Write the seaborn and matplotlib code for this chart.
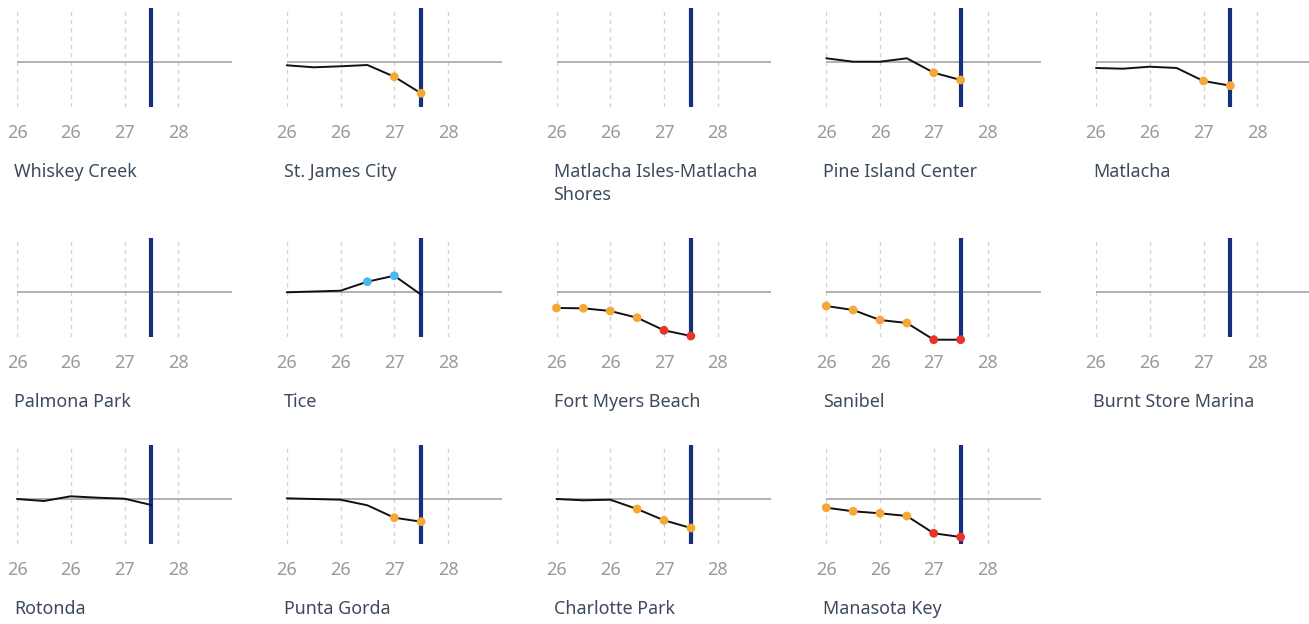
import matplotlib
matplotlib.use("Agg")
import matplotlib.pyplot as plt
import seaborn as sns
import pandas as pd

# period positions on the x axis and their tick labels
periods = [0, 0.5, 1, 1.5, 2, 2.5]
tick_pos = [0, 1, 2, 3]
tick_labels = ["26", "26", "27", "28"]
current_period = 2.5

places = [
    "Whiskey Creek", "St. James City", "Matlacha Isles-Matlacha\nShores",
    "Pine Island Center", "Matlacha",
    "Palmona Park", "Tice", "Fort Myers Beach", "Sanibel", "Burnt Store Marina",
    "Rotonda", "Punta Gorda", "Charlotte Park", "Manasota Key",
]

# change vs baseline per period (None = no data)
values = [
    None,
    [-3.3, -5.3, -4.3, -3.0, -14.7, -31.3],
    None,
    [3.7, 0.3, 0.3, 3.7, -10.7, -18.0],
    [-6.0, -6.7, -4.7, -6.0, -19.0, -23.7],
    None,
    [-0.3, 0.5, 1.3, 10.3, 16.3, -2.7],
    [-16.0, -16.3, -19.0, -25.7, -38.3, -44.0],
    [-14.0, -18.0, -28.0, -31.0, -47.7, -47.7],
    None,
    [0.0, -2.0, 2.7, 1.3, 0.3, -6.0],
    [0.7, 0.0, -0.7, -6.3, -18.7, -22.7],
    [0.0, -1.3, -0.7, -10.0, -21.3, -29.0],
    [-8.7, -12.3, -14.3, -17.0, -34.3, -38.0],
]

# marker status per point: "" none, "low", "very_low", "high"
status = [
    None,
    ["", "", "", "", "low", "low"],
    None,
    ["", "", "", "", "low", "low"],
    ["", "", "", "", "low", "low"],
    None,
    ["", "", "", "high", "high", ""],
    ["low", "low", "low", "low", "very_low", "very_low"],
    ["low", "low", "low", "low", "very_low", "very_low"],
    None,
    ["", "", "", "", "", ""],
    ["", "", "", "", "low", "low"],
    ["", "", "", "low", "low", "low"],
    ["low", "low", "low", "low", "very_low", "very_low"],
]

palette = {"low": "#f5a833", "very_low": "#e8352b", "high": "#4cb8f2"}

sns.set_theme(style="white")
plt.rcParams["font.family"] = ["Noto Sans", "DejaVu Sans"]

W, H = 1309, 624
fig = plt.figure(figsize=(W / 100, H / 100), dpi=100)

row_tops = [8, 238, 445]
panel_h = 99
panel_w = 215

for i, place in enumerate(places):
    r, c = divmod(i, 5)
    left_px = 17 + 269.75 * c
    top_px = row_tops[r]
    ax = fig.add_axes([left_px / W, 1 - (top_px + panel_h) / H, panel_w / W, panel_h / H])

    ax.set_xlim(0, 4)
    ax.set_ylim(-45, 54)
    for s in ax.spines.values():
        s.set_visible(False)
    ax.set_yticks([])
    ax.set_xticks(tick_pos)
    ax.set_xticklabels(tick_labels)
    ax.tick_params(axis="x", length=0, pad=12, labelsize=13, labelcolor="#9a9a9a")
    ax.grid(axis="x", color="#d2d2d2", linestyle=(0, (3, 3)), linewidth=1)
    ax.set_axisbelow(True)

    ax.axhline(0, color="#ababab", linewidth=1.3, zorder=1)
    ax.axvline(current_period, color="#15307f", linewidth=3, zorder=2)

    if values[i] is not None:
        df = pd.DataFrame({"period": periods, "value": values[i], "status": status[i]})
        sns.lineplot(data=df, x="period", y="value", color="#111111", linewidth=1.4,
                     ax=ax, zorder=3, clip_on=False)
        marked = df[df["status"] != ""]
        if len(marked):
            sns.scatterplot(data=marked, x="period", y="value", hue="status",
                            palette=palette, s=40, edgecolor="none", legend=False,
                            ax=ax, zorder=4, clip_on=False)
    ax.set_xlabel("")
    ax.set_ylabel("")

    # place name below the panel, one text per line (23 px line step)
    for k, line in enumerate(place.split("\n")):
        fig.text((left_px - 3) / W, 1 - (top_px + panel_h + 70 + 23 * k) / H, line,
                 ha="left", va="baseline", fontsize=12.9, color="#3d4a5c")

fig.savefig("out.png", dpi=100, facecolor="white")
